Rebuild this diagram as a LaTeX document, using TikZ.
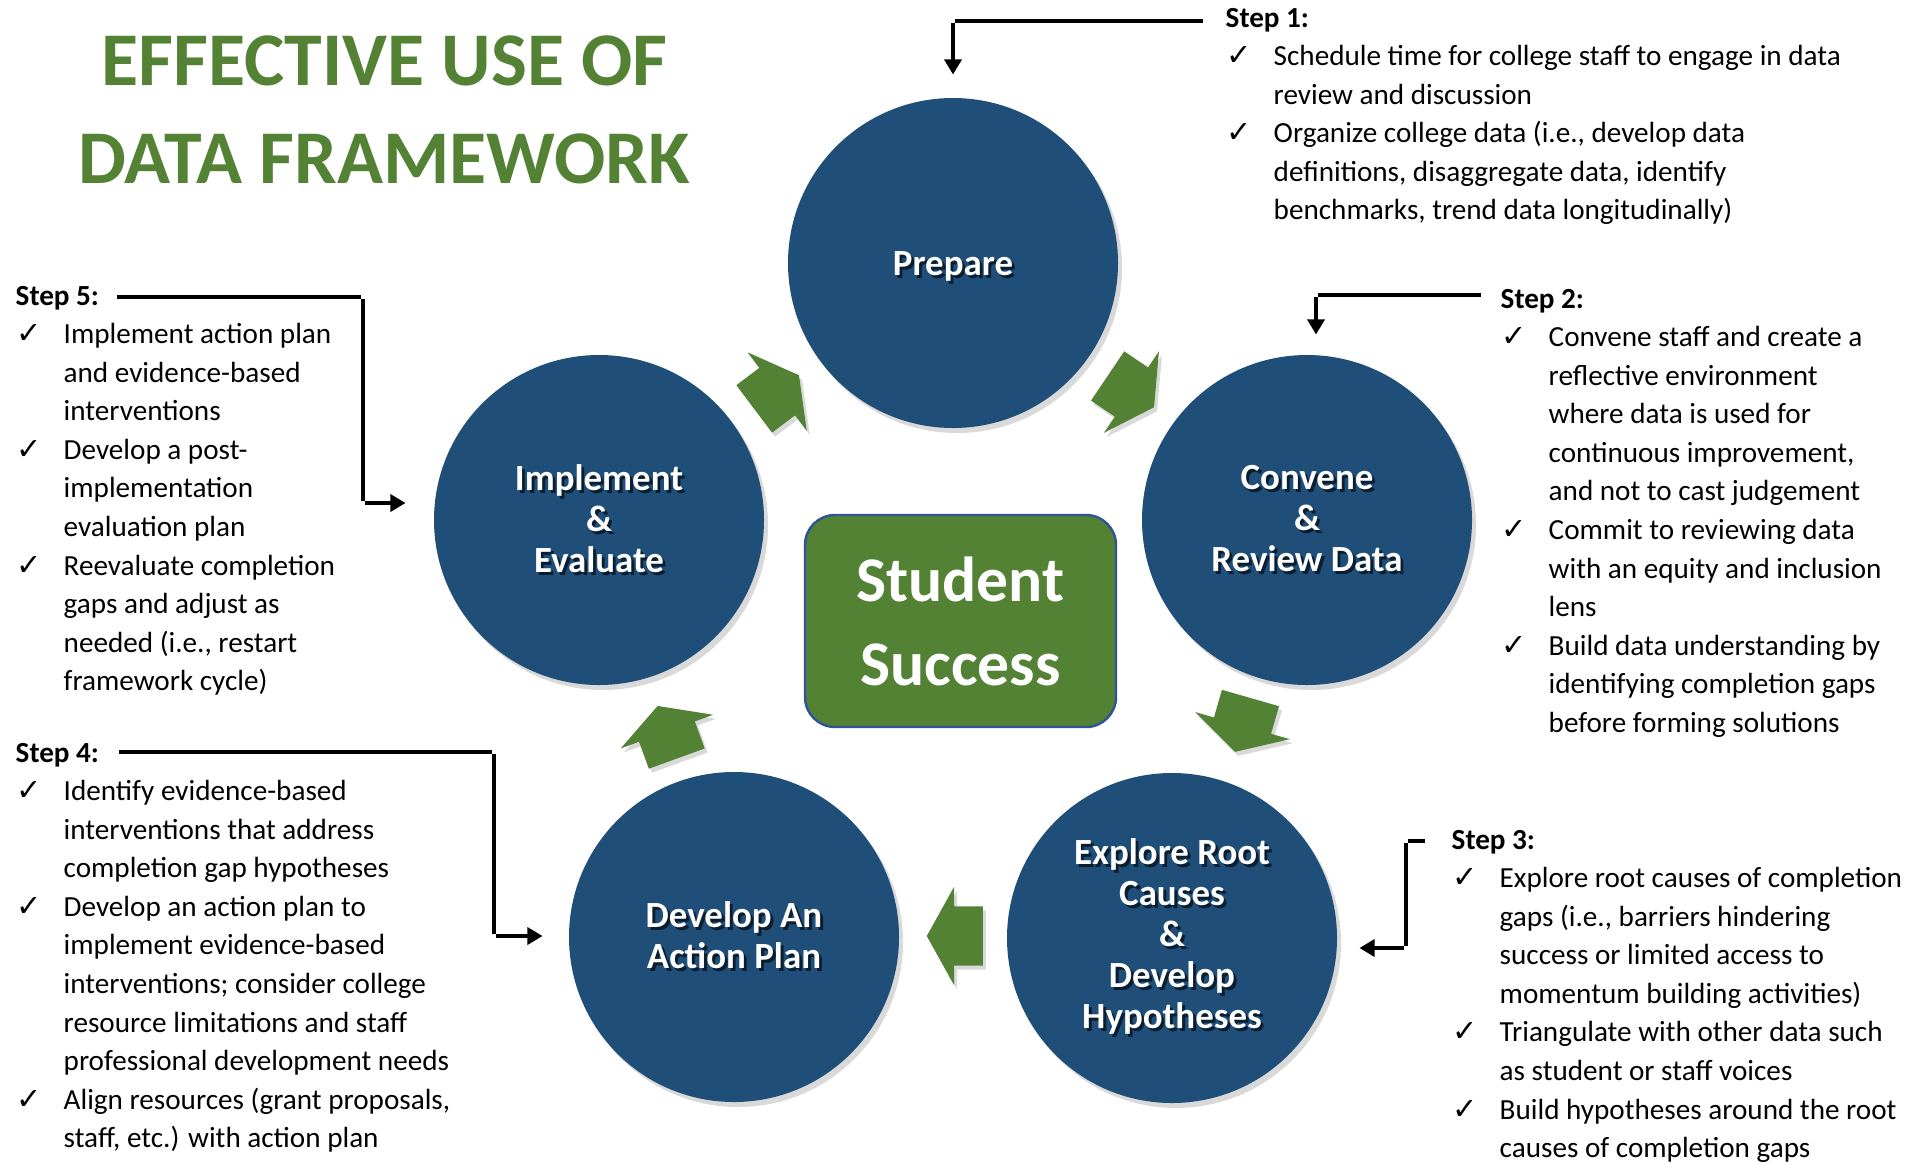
\documentclass[tikz,border=0pt]{standalone}
\usepackage{fontspec}
\setmainfont{Carlito}
\newfontfamily\dejavu{DejaVu Sans}
\usetikzlibrary{shapes.arrows}
\usetikzlibrary{shadows}
\usetikzlibrary{arrows.meta}
\pgfdeclarelayer{edgelayer}
\pgfdeclarelayer{nodelayer}
\pgfsetlayers{edgelayer,nodelayer,main}
\definecolor{stageblue}{HTML}{1F4E79}
\definecolor{cyclegreen}{HTML}{548235}
\definecolor{boxborder}{HTML}{2F5597}
\definecolor{textshade}{HTML}{0B1E30}
\newcommand{\lifted}[1]{\leavevmode\rlap{\hspace{0.8pt}\raisebox{-0.8pt}{\textcolor{textshade}{#1}}}#1}
\newcommand{\chk}{\hspace*{0.01cm}{\dejavu\fontsize{8.6}{8.6}\selectfont ✓}}
\tikzstyle{none}=[inner sep=0pt]
\tikzstyle{stage}=[circle,fill=stageblue,minimum size=3.3cm,inner sep=0pt,align=center,text=white,font=\fontsize{10.5}{11.66}\selectfont\bfseries,drop shadow={shadow xshift=0.04cm,shadow yshift=-0.05cm,opacity=0.3}]
\tikzstyle{hub}=[rectangle,rounded corners=0.3cm,fill=cyclegreen,draw=boxborder,line width=0.7pt,minimum width=3.11cm,minimum height=2.12cm,align=center,text=white,font=\fontsize{18.1}{23.9}\selectfont\bfseries]
\tikzstyle{cyclearrow}=[single arrow,fill=cyclegreen,minimum height=0.56cm,single arrow head extend=0.195cm,single arrow tip angle=122,single arrow head indent=0cm,inner xsep=0pt,inner ysep=0.29cm,drop shadow={shadow xshift=0.03cm,shadow yshift=-0.04cm,opacity=0.3}]
\tikzstyle{steptext}=[anchor=base west,inner sep=0pt,font=\fontsize{8.3}{10.98}\selectfont]
\tikzstyle{heading}=[anchor=base,inner sep=0pt,text=cyclegreen,font=\fontsize{21.6}{27.9}\selectfont\bfseries]
\tikzstyle{elbow}=[-{Triangle[width=4.8pt,length=4.3pt]},draw=black,line width=1.15pt]

\begin{document}
\begin{tikzpicture}
	\useasboundingbox (0,0) rectangle (19.26,-11.63);
	\begin{pgfonlayer}{nodelayer}
		\node [style=stage] (0) at (9.53, -2.63) {\raisebox{-1.4pt}[\height][\depth]{\lifted{Prepare}}};
		\node [style=stage] (1) at (13.07, -5.20) {\lifted{Convene}\\\lifted{\&}\\\lifted{Review Data}};
		\node [style=stage] (2) at (11.72, -9.38) {\lifted{Explore Root}\\\lifted{Causes}\\\lifted{\&}\\\lifted{Develop}\\\lifted{Hypotheses}};
		\node [style=stage] (3) at (7.34, -9.37) {\lifted{Develop An}\\\lifted{Action Plan}};
		\node [style=stage] (4) at (5.99, -5.20) {\lifted{Implement}\\\lifted{\&}\\\lifted{Evaluate}};
		\node [style=hub] (5) at (9.605, -6.21) {Student\\Success};
		\node [style=heading] (6) at (3.845, -0.85) {\begin{tabular}[t]{@{}c@{}}EFFECTIVE USE OF\\DATA FRAMEWORK\end{tabular}};
		\node [style=cyclearrow, rotate=37] (10) at (7.70, -3.97) {};
		\node [style=cyclearrow, rotate=-34] (11) at (11.24, -3.87) {};
		\node [style=cyclearrow, rotate=-106] (12) at (12.45, -7.17) {};
		\node [style=cyclearrow, rotate=180] (13) at (9.63, -9.36) {};
		\node [style=cyclearrow, rotate=110] (14) at (6.70, -7.40) {};
		\node [style=none] (20) at (12.05, -0.21) {};
		\node [style=none] (21) at (9.53, -0.21) {};
		\node [style=none] (22) at (9.53, -0.77) {};
		\node [style=none] (23) at (14.83, -2.95) {};
		\node [style=none] (24) at (13.16, -2.95) {};
		\node [style=none] (25) at (13.16, -3.37) {};
		\node [style=none] (26) at (14.27, -8.41) {};
		\node [style=none] (27) at (14.06, -8.41) {};
		\node [style=none] (28) at (14.06, -9.48) {};
		\node [style=none] (29) at (13.57, -9.48) {};
		\node [style=none] (30) at (1.17, -7.52) {};
		\node [style=none] (31) at (4.94, -7.52) {};
		\node [style=none] (32) at (4.94, -9.36) {};
		\node [style=none] (33) at (5.45, -9.36) {};
		\node [style=none] (34) at (1.15, -2.97) {};
		\node [style=none] (35) at (3.63, -2.97) {};
		\node [style=none] (36) at (3.63, -5.03) {};
		\node [style=none] (37) at (4.08, -5.03) {};
		\node [style=steptext] (40) at (12.25, -0.27) {\begin{tabular}[t]{@{}p{0.48cm}@{}l@{}}
			\multicolumn{2}{@{}l@{}}{\textbf{Step 1:}}\\
			\chk & Schedule time for college staff to engage in data\\
			& review and discussion\\
			\chk & Organize college data (i.e., develop data\\
			& definitions, disaggregate data, identify\\
			& benchmarks, trend data longitudinally)
		\end{tabular}};
		\node [style=steptext] (41) at (15.00, -3.08) {\begin{tabular}[t]{@{}p{0.48cm}@{}l@{}}
			\multicolumn{2}{@{}l@{}}{\textbf{Step 2:}}\\
			\chk & Convene staff and create a\\
			& reflective environment\\
			& where data is used for\\
			& continuous improvement,\\
			& and not to cast judgement\\
			\chk & Commit to reviewing data\\
			& with an equity and inclusion\\
			& lens\\
			\chk & Build data understanding by\\
			& identifying completion gaps\\
			& before forming solutions
		\end{tabular}};
		\node [style=steptext] (42) at (14.51, -8.49) {\begin{tabular}[t]{@{}p{0.48cm}@{}l@{}}
			\multicolumn{2}{@{}l@{}}{\textbf{Step 3:}}\\
			\chk & Explore root causes of completion\\
			& gaps (i.e., barriers hindering\\
			& success or limited access to\\
			& momentum building activities)\\
			\chk & Triangulate with other data such\\
			& as student or staff voices\\
			\chk & Build hypotheses around the root\\
			& causes of completion gaps
		\end{tabular}};
		\node [style=steptext] (43) at (0.15, -7.62) {\begin{tabular}[t]{@{}p{0.48cm}@{}l@{}}
			\multicolumn{2}{@{}l@{}}{\textbf{Step 4:}}\\
			\chk & Identify evidence-based\\
			& interventions that address\\
			& completion gap hypotheses\\
			\chk & Develop an action plan to\\
			& implement evidence-based\\
			& interventions; consider college\\
			& resource limitations and staff\\
			& professional development needs\\
			\chk & Align resources (grant proposals,\\
			& staff, etc.) with action plan
		\end{tabular}};
		\node [style=steptext] (44) at (0.15, -3.05) {\begin{tabular}[t]{@{}p{0.48cm}@{}l@{}}
			\multicolumn{2}{@{}l@{}}{\textbf{Step 5:}}\\
			\chk & Implement action plan\\
			& and evidence-based\\
			& interventions\\
			\chk & Develop a post-\\
			& implementation\\
			& evaluation plan\\
			\chk & Reevaluate completion\\
			& gaps and adjust as\\
			& needed (i.e., restart\\
			& framework cycle)
		\end{tabular}};
	\end{pgfonlayer}
	\begin{pgfonlayer}{edgelayer}
		\draw [style=elbow] (20) -- (21) -- (22);
		\draw [style=elbow] (23) -- (24) -- (25);
		\draw [style=elbow] (26) -- (27) -- (28) -- (29);
		\draw [style=elbow] (30) -- (31) -- (32) -- (33);
		\draw [style=elbow] (34) -- (35) -- (36) -- (37);
	\end{pgfonlayer}
\end{tikzpicture}
\end{document}
